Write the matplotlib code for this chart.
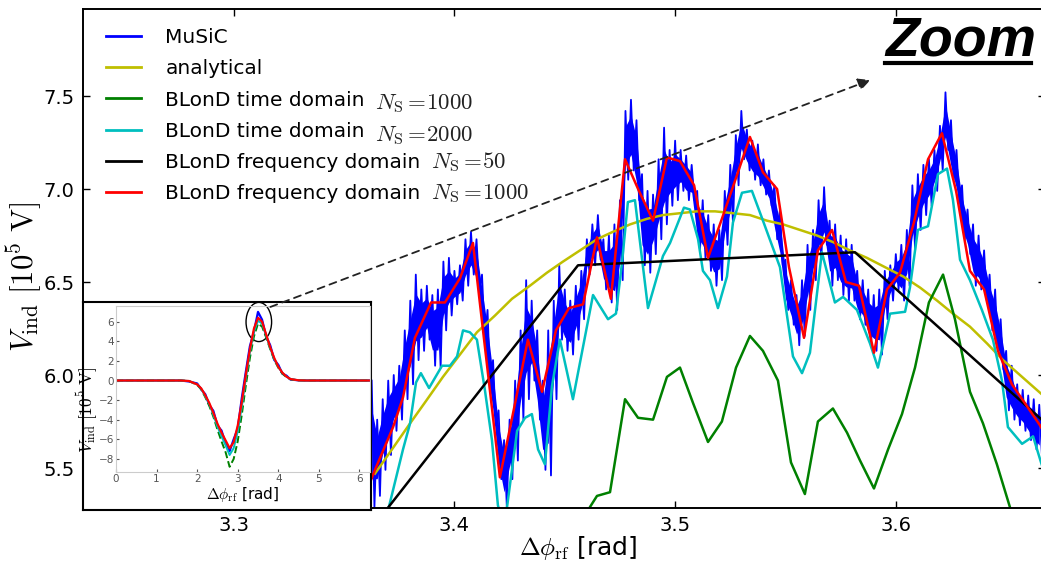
import numpy as np
import matplotlib
matplotlib.use("Agg")
import matplotlib.pyplot as plt
from matplotlib.patches import Ellipse, FancyArrowPatch
from matplotlib.lines import Line2D

plt.rcParams["mathtext.fontset"] = "cm"
plt.rcParams["font.family"] = ["DejaVu Sans"]

# ---------------- main panel data (zoom on the voltage peak) ----------------
# MuSiC: noisy macro-particle signal, given as upper/lower extent of the trace
music_phi0 = 3.3625
music_step = 0.0025
music_hi = [5.97, 5.76, 5.87, 5.97, 6.00, 6.05, 6.24, 6.40, 6.54, 6.46,
            6.48, 6.43, 6.46, 6.61, 6.63, 6.56, 6.59, 6.73, 6.77, 6.73,
            6.54, 6.35, 6.08, 5.81, 5.65, 5.76, 5.97, 6.24, 6.51, 6.40,
            6.24, 5.97, 6.24, 6.40, 6.59, 6.46, 6.40, 6.48, 6.56, 6.73,
            6.81, 6.86, 6.73, 6.75, 6.81, 6.94, 7.42, 7.48, 7.37, 7.08,
            6.99, 6.97, 7.16, 7.33, 7.21, 7.26, 7.21, 7.18, 7.13, 6.99,
            6.94, 6.86, 6.81, 6.78, 6.99, 7.13, 7.29, 7.42, 7.32, 7.26,
            7.24, 7.16, 7.10, 7.02, 6.89, 6.62, 6.51, 6.43, 6.51, 6.70,
            6.78, 6.94, 7.01, 6.83, 6.81, 6.75, 6.73, 6.70, 6.56, 6.51,
            6.46, 6.43, 6.46, 6.56, 6.59, 6.65, 6.70, 6.78, 7.02, 7.08,
            7.13, 7.16, 7.21, 7.34, 7.52, 7.37, 7.21, 7.02, 6.89, 6.81,
            6.75, 6.67, 6.54, 6.46, 6.30, 6.13, 6.05, 5.95, 5.92, 5.89,
            5.87, 5.84]
music_lo = [5.29, 5.35, 5.49, 5.57, 5.70, 5.76, 5.87, 5.95, 6.08, 6.13,
            6.19, 6.05, 6.04, 6.24, 6.32, 6.38, 6.40, 6.48, 6.54, 6.46,
            6.19, 5.92, 5.73, 5.44, 5.29, 5.44, 5.54, 5.76, 5.87, 5.97,
            5.76, 5.49, 5.46, 5.87, 6.19, 6.13, 6.11, 6.19, 6.30, 6.54,
            6.59, 6.62, 6.46, 6.39, 6.35, 6.51, 7.05, 7.10, 6.94, 6.59,
            6.55, 6.65, 6.73, 6.81, 6.91, 6.94, 6.99, 6.94, 6.94, 6.67,
            6.63, 6.56, 6.48, 6.51, 6.70, 6.81, 7.02, 7.16, 7.10, 7.05,
            7.02, 6.97, 6.91, 6.73, 6.59, 6.35, 6.27, 6.16, 6.21, 6.35,
            6.51, 6.62, 6.70, 6.48, 6.51, 6.43, 6.40, 6.40, 6.30, 6.27,
            6.16, 6.13, 6.11, 6.30, 6.40, 6.46, 6.40, 6.48, 6.67, 6.78,
            6.86, 6.91, 6.99, 7.10, 7.21, 7.05, 6.94, 6.73, 6.65, 6.48,
            6.46, 6.40, 6.24, 6.13, 6.03, 5.81, 5.76, 5.73, 5.70, 5.65,
            5.60, 5.56]

# analytical induced voltage
ana_phi = [3.3640, 3.3717, 3.3799, 3.3871, 3.3948, 3.4025, 3.4102, 3.4184,
           3.4261, 3.4342, 3.4419, 3.4492, 3.4569, 3.4646, 3.4718, 3.4796,
           3.4873, 3.4945, 3.5022, 3.5099, 3.5181, 3.5262, 3.5339, 3.5416,
           3.5489, 3.5566, 3.5643, 3.5715, 3.5792, 3.5869, 3.5951, 3.6033,
           3.6110, 3.6187, 3.6259, 3.6336, 3.6413, 3.6486, 3.6572, 3.6658]
ana_v = [5.47, 5.60, 5.74, 5.86, 5.99, 6.11, 6.23, 6.32, 6.41, 6.48,
         6.55, 6.61, 6.67, 6.73, 6.77, 6.81, 6.84, 6.86, 6.87, 6.88,
         6.88, 6.87, 6.86, 6.83, 6.81, 6.78, 6.75, 6.715, 6.67, 6.63,
         6.58, 6.53, 6.47, 6.40, 6.33, 6.26, 6.17, 6.08, 5.99, 5.90]

# BLonD time domain, N_S = 1000
td1000_phi = [3.4551, 3.4614, 3.4646, 3.4705, 3.4773, 3.4832, 3.4900, 3.4963,
              3.5022, 3.5081, 3.5149, 3.5212, 3.5276, 3.5339, 3.5398, 3.5466,
              3.5525, 3.5588, 3.5647, 3.5715, 3.5779, 3.5838, 3.5901, 3.5965,
              3.6028, 3.6087, 3.6150, 3.6214, 3.6268, 3.6336, 3.6395, 3.6458,
              3.6517, 3.6581]
td1000_v = [5.09, 5.29, 5.35, 5.37, 5.87, 5.77, 5.76, 5.99,
            6.04, 5.85, 5.64, 5.75, 6.04, 6.21, 6.13, 5.97,
            5.53, 5.36, 5.75, 5.82, 5.69, 5.54, 5.39, 5.60,
            5.79, 6.04, 6.39, 6.54, 6.30, 5.91, 5.74, 5.52,
            5.29, 5.06]

# BLonD time domain, N_S = 2000
td2000_phi = [3.3663, 3.3703, 3.3767, 3.3799, 3.3826, 3.3848, 3.3885, 3.3944,
              3.3980, 3.4012, 3.4039, 3.4070, 3.4102, 3.4138, 3.4170, 3.4197,
              3.4225, 3.4284, 3.4320, 3.4351, 3.4379, 3.4410, 3.4442, 3.4478,
              3.4537, 3.4628, 3.4696, 3.4732, 3.4759, 3.4786, 3.4818, 3.4877,
              3.4945, 3.4977, 3.5040, 3.5067, 3.5104, 3.5126, 3.5158, 3.5194,
              3.5235, 3.5262, 3.5303, 3.5348, 3.5398, 3.5475, 3.5534, 3.5575,
              3.5611, 3.5665, 3.5724, 3.5761, 3.5824, 3.5883, 3.5919, 3.5974,
              3.6042, 3.6064, 3.6100, 3.6146, 3.6191, 3.6232, 3.6259, 3.6291,
              3.6336, 3.6390, 3.6440, 3.6481, 3.6508, 3.6572, 3.6622, 3.6658,
              3.6699]
td2000_v = [5.19, 5.29, 5.60, 5.74, 5.96, 6.01, 5.93, 6.05,
            6.05, 6.10, 6.24, 6.23, 6.19, 5.92, 5.65, 5.30,
            5.17, 5.70, 5.77, 5.79, 5.60, 5.52, 5.94, 6.19,
            5.87, 6.43, 6.30, 6.33, 6.60, 6.93, 6.94, 6.36,
            6.64, 6.71, 6.90, 6.89, 6.73, 6.56, 6.51, 6.36,
            6.53, 6.82, 6.98, 6.99, 6.83, 6.58, 6.10, 6.01,
            6.12, 6.66, 6.39, 6.42, 6.35, 6.17, 6.04, 6.33,
            6.34, 6.47, 6.78, 6.80, 7.08, 7.11, 6.94, 6.62,
            6.51, 6.35, 6.19, 5.97, 5.72, 5.63, 5.67, 5.53,
            5.38]

# BLonD frequency domain, N_S = 50
fd50_phi = [3.3305, 3.4560, 3.5815, 3.7084]
fd50_v = [4.69, 6.59, 6.66, 5.31]

# BLonD frequency domain, N_S = 1000
fd1000_phi = [3.3577, 3.3640, 3.3722, 3.3767, 3.3821, 3.3894, 3.3957, 3.4025,
              3.4084, 3.4148, 3.4206, 3.4270, 3.4333, 3.4397, 3.4460, 3.4519,
              3.4583, 3.4646, 3.4709, 3.4773, 3.4836, 3.4900, 3.4963, 3.5022,
              3.5086, 3.5149, 3.5212, 3.5276, 3.5339, 3.5398, 3.5462, 3.5516,
              3.5584, 3.5647, 3.5711, 3.5774, 3.5833, 3.5901, 3.5960, 3.6019,
              3.6082, 3.6146, 3.6209, 3.6273, 3.6336, 3.6400, 3.6463, 3.6526,
              3.6590, 3.6653, 3.6717]
fd1000_v = [5.30, 5.49, 5.72, 5.88, 6.20, 6.39, 6.39, 6.52,
            6.71, 6.05, 5.45, 5.82, 6.19, 5.91, 6.24, 6.36,
            6.38, 6.74, 6.41, 7.16, 6.99, 6.83, 7.17, 7.15,
            7.02, 6.63, 6.84, 7.06, 7.28, 7.09, 7.00, 6.58,
            6.20, 6.67, 6.78, 6.50, 6.48, 6.12, 6.46, 6.55,
            6.82, 7.16, 7.30, 6.99, 6.56, 6.46, 6.13, 5.95,
            5.84, 5.73, 5.60]

# ---------------- inset data (full bunch) ----------------
inset_phi = [0.0, 1.6, 1.8, 2.0, 2.1, 2.2, 2.3, 2.4, 2.5, 2.6, 2.7, 2.8, 2.9,
             3.0, 3.1, 3.2, 3.3, 3.4, 3.5, 3.6, 3.7, 3.8, 3.9, 4.0, 4.1, 4.2,
             4.3, 4.5, 4.7, 6.3]
inset_music = [0, 0, -0.1, -0.3, -0.9, -1.4, -2.5, -3.1, -4.6, -5.1, -6.4,
               -7.2, -6.0, -4.9, -1.8, 0.9, 3.5, 5.0, 7.0, 6.2, 4.5, 3.6, 2.1,
               1.6, 0.7, 0.5, 0.1, 0.02, 0, 0]
inset_td1000 = [0, 0, -0.05, -0.45, -0.9, -1.7, -2.6, -3.7, -5.0, -6.2, -7.3,
                -8.8, -8.0, -6.2, -3.5, -0.5, 2.3, 4.5, 5.8, 5.5, 4.4, 3.2, 2.1,
                1.3, 0.7, 0.35, 0.12, 0.02, 0, 0]
inset_td2000 = [0, 0, -0.05, -0.4, -0.85, -1.6, -2.4, -3.5, -4.7, -5.7, -6.6,
                -7.6, -6.9, -5.2, -2.7, 0.2, 2.9, 5.0, 6.1, 5.8, 4.6, 3.3, 2.2,
                1.4, 0.8, 0.4, 0.15, 0.02, 0, 0]
inset_fd1000 = [0, 0, -0.05, -0.4, -0.8, -1.5, -2.3, -3.3, -4.4, -5.3, -6.1,
                -6.9, -6.3, -4.6, -2.2, 0.6, 3.2, 5.3, 6.4, 6.0, 4.7, 3.4, 2.3,
                1.4, 0.8, 0.4, 0.15, 0.02, 0, 0]

labels = [
    "MuSiC",
    "analytical",
    "BLonD time domain",
    "BLonD time domain",
    "BLonD frequency domain",
    "BLonD frequency domain",
]
label_math = [None, None,
              r"$N_{\rm S} =\!1000$", r"$N_{\rm S} =\!2000$",
              r"$N_{\rm S} =\!50$", r"$N_{\rm S} =\!1000$"]
colors = ["b", "y", "g", "c", "k", "r"]

W, H = 1041, 565
fig = plt.figure(figsize=(W / 100, H / 100), dpi=100)

# ---------------- main axes ----------------
ax = fig.add_axes([83 / W, 1 - 508 / H, 962 / W, 499 / H])

# MuSiC: dense core of the noise band plus the spiky excursions
x_music = music_phi0 + music_step * np.arange(len(music_hi))
hi = np.asarray(music_hi)
lo = np.asarray(music_lo)
mid = 0.5 * (hi + lo)
half = 0.5 * (hi - lo)
ax.fill_between(x_music, mid - 0.55 * half, mid + 0.55 * half,
                color=colors[0], lw=0)
xs = np.column_stack([x_music, x_music + music_step / 2]).ravel()
ys = np.column_stack([hi, lo]).ravel()
ax.plot(xs, ys, color=colors[0], lw=1.3, label=labels[0])

ax.plot(ana_phi, ana_v, color=colors[1], lw=1.8, label=labels[1])
ax.plot(td1000_phi, td1000_v, color=colors[2], lw=1.8, label=labels[2])
ax.plot(td2000_phi, td2000_v, color=colors[3], lw=1.8, label=labels[3])
ax.plot(fd50_phi, fd50_v, color=colors[4], lw=1.8, label=labels[4])
ax.plot(fd1000_phi, fd1000_v, color=colors[5], lw=1.8, label=labels[5])

ax.set_xlim(3.2317, 3.6676)
ax.set_ylim(5.285, 7.968)
ax.set_xticks([3.3, 3.4, 3.5, 3.6])
ax.set_yticks([5.5, 6.0, 6.5, 7.0, 7.5])
ax.set_yticklabels(["5.5", "6.0", "6.5", "7.0", "7.5"])
ax.tick_params(direction="in", length=5, width=1, top=True, right=True,
               labelsize=14, pad=6)
for s in ax.spines.values():
    s.set_linewidth(1.4)

ax.set_ylabel(r"$V_{\rm ind}\ [10^5\ {\rm V}]$", fontsize=22)
ax.yaxis.set_label_coords(-0.040, 0.463)
ax.set_xlabel(r"$\Delta\phi_{\rm rf}$ [rad]", fontsize=18)
ax.xaxis.set_label_coords(0.515, -0.052)

leg = ax.legend(loc="upper left", bbox_to_anchor=(0.024, 0.962), frameon=False,
                fontsize=14.5, handlelength=1.75, handletextpad=1.2,
                labelspacing=0.61, borderaxespad=0, borderpad=0)
for h in leg.get_lines():
    h.set_linewidth(2.0)

# ---------------- inset ----------------
frame = fig.add_axes([83 / W, 1 - 510 / H, 288 / W, 208 / H])
frame.set_xticks([])
frame.set_yticks([])
frame.set_facecolor("white")
for s in frame.spines.values():
    s.set_linewidth(1.5)
frame.set_zorder(2)

ins = fig.add_axes([116 / W, 1 - 471.7 / H, 254 / W, 166 / H])
ins.set_zorder(3)
ins.plot(inset_phi, inset_music, color="b", lw=1.6)
ins.plot(inset_phi, inset_td1000, color="g", lw=1.4, ls="--")
ins.plot(inset_phi, inset_td2000, color="c", lw=1.4)
ins.plot(inset_phi, inset_fd1000, color="r", lw=1.6)
ins.set_xlim(0, 6.26)
ins.set_ylim(-9.3, 7.63)
ins.set_xticks(range(0, 7))
ins.set_yticks([-8, -6, -4, -2, 0, 2, 4, 6])
ins.tick_params(direction="in", length=2, labelsize=7.5, colors="#555555", pad=1.5)
for s in ins.spines.values():
    s.set_color("#cccccc")
    s.set_linewidth(0.8)
ins.set_xlabel(r"$\Delta\phi_{\rm rf}$ [rad]", fontsize=11, labelpad=1)
ins.set_ylabel(r"$V_{\rm ind}\ [10^5\ {\rm V}]$", fontsize=12.5)
ins.yaxis.set_label_coords(-0.064, 0.37)

ins.add_patch(Ellipse((3.52, 5.97), 0.63, 4.0, fill=False, ec="k", lw=1.0,
                      clip_on=False))

# dashed pointer from the circled peak to the zoomed panel
start = fig.transFigure.inverted().transform(ins.transData.transform((3.74, 7.4)))
arrow = FancyArrowPatch(tuple(start), (873 / W, 1 - 79 / H),
                        transform=fig.transFigure, arrowstyle="-|>",
                        mutation_scale=18, linestyle=(0, (4, 3)), lw=1.3,
                        color="#222222", zorder=6)
fig.add_artist(arrow)

# "Zoom" heading
fig.text(885 / W, 1 - 55 / H, "Zoom", fontsize=40, fontweight="bold",
         fontstyle="italic", family="Liberation Sans", ha="left",
         va="baseline")
fig.add_artist(Line2D([885 / W, 1031 / W], [1 - 63 / H, 1 - 63 / H],
                      transform=fig.transFigure, color="k", lw=3))

# macro-particle counts, set in math type after each legend entry
fig.canvas.draw()
renderer = fig.canvas.get_renderer()
for txt, m in zip(leg.get_texts(), label_math):
    if not m:
        continue
    bb = txt.get_window_extent(renderer)
    _, _, descent = renderer.get_text_width_height_descent(
        txt.get_text(), txt.get_fontproperties(), ismath=False)
    fig.text((bb.x1 + 10) / W, (bb.y0 + descent) / H, m, ha="left",
             va="baseline", fontsize=16.5, color="#222222")

fig.savefig("out.png", dpi=100)
